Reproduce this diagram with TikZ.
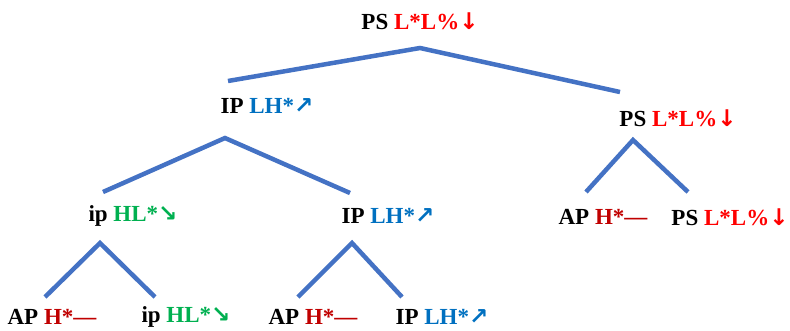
\documentclass[tikz,border=0pt]{standalone}
\usepackage{fontspec}
\setmainfont{Liberation Serif}
\newfontfamily\arwfont{DejaVu Sans}
\usepackage{tikz}
\usetikzlibrary{positioning}

\definecolor{bndred}{HTML}{FF0000}
\definecolor{accred}{HTML}{C00000}
\definecolor{hlgreen}{HTML}{00B050}
\definecolor{lhblue}{HTML}{0070C0}
\definecolor{branch}{HTML}{4472C4}

\newcommand{\psL}{\textcolor{bndred}{L*L\%{\arwfont\bfseries↓}}}
\newcommand{\ipLH}{\textcolor{lhblue}{LH*{\arwfont\bfseries↗}}}
\newcommand{\ipHL}{\textcolor{hlgreen}{HL*{\arwfont\bfseries↘}}}
\newcommand{\apH}{\textcolor{accred}{H*—}}

\begin{document}
\begin{tikzpicture}[
                x=1pt, y=-1pt,
                lab/.style={font=\fontsize{23}{25}\selectfont\bfseries, inner sep=0pt, anchor=center},
                edge/.style={draw=branch, line width=4.5pt}
            ]
                \useasboundingbox (0,0) rectangle (790,330);

                % labels
                \node[lab] (root) at (420,21) {PS \psL};
                \node[lab] (ipA) at (267,106) {IP \ipLH};
                \node[lab] (psB) at (678,118) {PS \psL};
                \node[lab] (ipC) at (133,216) {ip \ipHL};
                \node[lab] (ipD) at (388,216) {IP \ipLH};
                \node[lab] (apE) at (603,217) {AP \apH};
                \node[lab] (psF) at (730,217) {PS \psL};
                \node[lab] (apG) at (52,317) {AP \apH};
                \node[lab] (ipH) at (186,317) {ip \ipHL};
                \node[lab] (apI) at (313,317) {AP \apH};
                \node[lab] (ipJ) at (442,317) {IP \ipLH};

                % branch points
                \coordinate (root-top) at (420,48);
                \coordinate (ipA-end) at (228,81);
                \coordinate (psB-end) at (620,92);
                \coordinate (ipA-top) at (225,138);
                \coordinate (ipC-end) at (103,192);
                \coordinate (ipD-end) at (350,193);
                \coordinate (psB-top) at (633,140);
                \coordinate (apE-end) at (586,192);
                \coordinate (psF-end) at (688,192);
                \coordinate (ipC-top) at (100,243);
                \coordinate (apG-end) at (45,297);
                \coordinate (ipH-end) at (155,297);
                \coordinate (ipD-top) at (352,243);
                \coordinate (apI-end) at (298,297);
                \coordinate (ipJ-end) at (402,297);

                \draw[edge] (ipA-end) -- (root-top) -- (psB-end);
                \draw[edge] (ipC-end) -- (ipA-top) -- (ipD-end);
                \draw[edge] (apE-end) -- (psB-top) -- (psF-end);
                \draw[edge] (apG-end) -- (ipC-top) -- (ipH-end);
                \draw[edge] (apI-end) -- (ipD-top) -- (ipJ-end);
            \end{tikzpicture}
\end{document}
